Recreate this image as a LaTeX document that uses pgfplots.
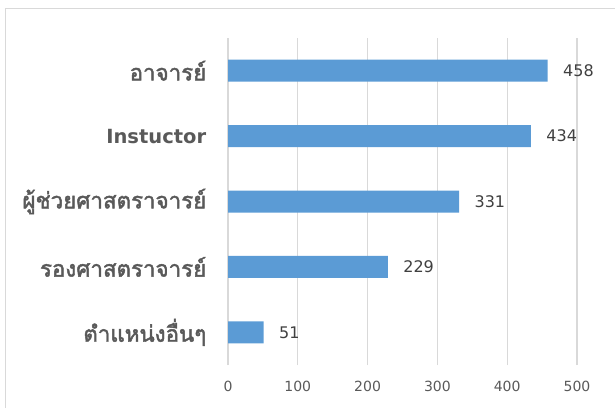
\documentclass[border=0pt]{standalone}
\usepackage{fontspec}
\setmainfont{DejaVu Sans}
\newfontfamily\thaifont[Script=Thai, FakeBold=2]{Loma}
\usepackage{pgfplots}
\pgfplotsset{compat=1.18}
\definecolor{barblue}{HTML}{5B9BD5}
\definecolor{gridgray}{HTML}{D9D9D9}
\definecolor{txtgray}{HTML}{595959}
\definecolor{valgray}{HTML}{404040}
\begin{document}
\begin{tikzpicture}[x=1pt,y=1pt]
\useasboundingbox (0,0) rectangle (615,407);
\draw[gridgray, line width=1.2pt] (5.5,-5) -- (5.5,398.5) -- (620,398.5);
\begin{axis}[
  at={(228pt,42pt)}, anchor=south west,
  scale only axis, width=349pt, height=327pt,
  xbar, bar width=22pt,
  xmin=0, xmax=500, ymin=-0.5, ymax=4.5,
  xtick={0,100,200,300,400,500},
  ytick={0,1,2,3,4},
  yticklabels={{\thaifont ตำแหน่งอื่นๆ},{\thaifont รองศาสตราจารย์},{\thaifont ผู้ช่วยศาสตราจารย์},{\fontsize{19.5}{21}\selectfont\bfseries Instuctor},{\thaifont อาจารย์}},
  yticklabel style={font=\fontsize{22.3}{25}\selectfont, color=txtgray, xshift=-14pt},
  xticklabel style={font=\fontsize{14}{16}\selectfont, color=txtgray, yshift=-13pt},
  axis line style={draw=none},
  xmajorgrids, major grid style={gridgray, line width=1.2pt},
  tick style={draw=none},
  nodes near coords,
  nodes near coords style={font=\fontsize{16}{18}\selectfont, color=valgray, anchor=west, xshift=12pt},
  /pgf/number format/assume math mode=true,
  clip=false,
]
\addplot[fill=barblue, draw=none] coordinates {(51,0) (229,1) (331,2) (434,3) (458,4)};
\end{axis}
\end{tikzpicture}
\end{document}
